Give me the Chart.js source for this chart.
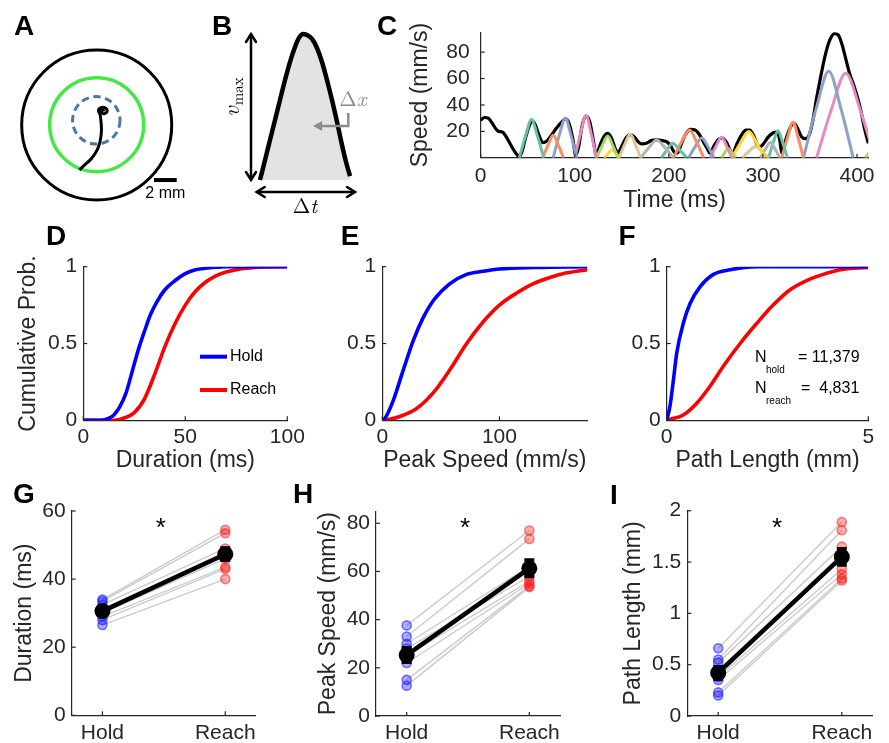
<!DOCTYPE html>
<html>
<head>
<meta charset="utf-8">
<script src="https://cdn.jsdelivr.net/npm/chart.js@4.4.1/dist/chart.umd.min.js"></script>
<style>
  html, body { margin: 0; padding: 0; background: #ffffff; }
  #fig { position: relative; width: 889px; height: 743px; overflow: hidden; background: #ffffff; }
  #fig canvas { position: absolute; left: 0; top: 0; }
</style>
</head>
<body>
<div id="fig">
  <canvas id="cA" width="889" height="743"></canvas>
  <canvas id="cB" width="889" height="743"></canvas>
  <canvas id="cC" width="889" height="743"></canvas>
  <canvas id="cD" width="889" height="743"></canvas>
  <canvas id="cE" width="889" height="743"></canvas>
  <canvas id="cF" width="889" height="743"></canvas>
  <canvas id="cG" width="889" height="743"></canvas>
  <canvas id="cH" width="889" height="743"></canvas>
  <canvas id="cI" width="889" height="743"></canvas>
</div>
<script>
// ---------------- data ----------------
// A: target rings (mm, relative to the target centre) and one example trajectory
const ringR  = [6.61, 4.14, 2.09];          // outer boundary, reach ring, hold zone
const ringCx = [0, 0, -0.035];
const ringCy = [0, 0.03, 0.41];
const trajX = [-1.53, -1.1, -0.55, -0.1, 0.2, 0.36, 0.42, 0.38, 0.3, 0.15, 0.45, 0.85, 0.9, 0.55, 0.4, 0.7];
const trajY = [-3.96, -3.55, -3.05, -2.45, -1.8, -1.1, -0.4, 0.3, 0.9, 1.3, 1.55, 1.45, 1.15, 1.0, 1.25, 1.35];
const scaleBarMM = 2;

// B: schematic single-submovement speed profile (normalised time, normalised speed)
const profileT = [0, 0.056, 0.111, 0.167, 0.222, 0.278, 0.333, 0.389, 0.433, 0.478, 0.522, 0.578, 0.633, 0.689,
                  0.744, 0.8, 0.856, 0.911, 0.956, 1.0];
const profileV = [0, 0.137, 0.274, 0.411, 0.548, 0.685, 0.808, 0.911, 0.973, 1.0, 0.993, 0.966, 0.904, 0.808,
                  0.685, 0.548, 0.397, 0.24, 0.123, 0.027];

// C: hand speed (ms, mm/s) and the fitted submovements
const speedT = [0,4,8,12,16,19,23,27,31,35,39,41,44,48,52,55,58,62,66,70,75,80,86,90,94,98,101,104,108,112,116,120,123,
  126,131,135,139,143,146,150,155,159,163,167,171,176,181,187,193,198,202,206,209,213,218,223,228,232,236,240,244,
  248,253,257,261,265,268,272,277,282,286,290,294,297,301,306,311,315,318,320,324,329,333,337,341,345,349,353,357,
  361,366,371,376,380,384,388,392,396,400,404,408,412];
const speedV = [28.5,30.5,30,26.5,22,20,19.5,16,11,6,2,0.8,5,16,25,28,25,17,11.5,12.5,17,22,27,29.5,26,14,2,8,25,31.5,27,12,1.5,
  8,16,18.5,15,7,3.5,9,15.5,17.5,16,12.5,10.5,11,13,13.5,13,12,9,4,3.5,10,18,21.5,21,18,13,8,3.5,
  9,14,15,12,6,3.5,10,17,21,21,17,10,8.5,11,16,19,19.5,13,3.5,13,23,26,22,16,14.5,17,28,45,
  60,77,89,94,93,86,75,64,56,47,36,22,11];
const submovements = [
  [[41,0],[47.5,16],[54,29],[60.5,16],[67,0]],
  [[66,0],[71.5,9.5],[77,17],[82.5,9.5],[88,0]],
  [[77,0],[83.5,17],[90,30],[96,17],[102,0]],
  [[100,0],[106,18],[112,32],[117.5,18],[123,0]],
  [[123,0],[129,9],[135,16.5],[140.5,9],[146,0]],
  [[131,0],[135.5,3.4],[140,6],[143.5,3.4],[147,0]],
  [[147,0],[153,10],[159,18],[164.5,10],[170,0]],
  [[170,0],[178.5,7.5],[187,13.5],[196,7.5],[205,0]],
  [[192,0],[198,6],[204,11],[211.5,6],[219,0]],
  [[205,0],[213.5,12],[222,21],[229.5,12],[237,0]],
  [[221,0],[228,8.5],[235,15],[241.5,8.5],[248,0]],
  [[244,0],[250,8.7],[256,15.5],[261.5,8.7],[267,0]],
  [[256,0],[259.5,4],[263,7],[267,4],[271,0]],
  [[267,0],[276,11],[285,20],[293.5,11],[302,0]],
  [[278,0],[285,4.8],[292,8.5],[299,4.8],[306,0]],
  [[297,0],[302.5,6.5],[308,11.5],[313,6.5],[318,0]],
  [[306,0],[311,11.5],[316,20.5],[321,11.5],[326,0]],
  [[320,0],[326,15],[332,27],[337.5,15],[343,0]],
  [[343,0],[356.5,37],[370,65.5],[383,37],[396,0]],
  [[357,0],[372.5,36],[388,64],[403.5,36],[419,0]],
  [[409,0],[413,4],[418,7]]
];
const set2 = ['#66c2a5', '#fc8d62', '#8da0cb', '#e78ac3', '#a6d854', '#ffd92f', '#e5c494', '#b3b3b3'];

// D-F: cumulative distributions (Hold vs Reach)
const durHoldX  = [0, 9, 12, 15, 18, 21, 24, 27, 30, 33, 36, 40, 45, 50, 55, 60, 70, 100];
const durHoldY  = [0, 0, 0.01, 0.035, 0.09, 0.18, 0.32, 0.46, 0.58, 0.69, 0.77, 0.85, 0.91, 0.955, 0.98, 0.99, 1, 1];
const durReachX = [0, 15, 20, 25, 30, 35, 40, 45, 50, 55, 60, 65, 70, 75, 80, 90, 100];
const durReachY = [0, 0, 0.015, 0.05, 0.14, 0.3, 0.48, 0.63, 0.75, 0.84, 0.9, 0.94, 0.965, 0.98, 0.99, 0.998, 1];
const pkHoldX  = [0, 2.3, 9.4, 18, 26.5, 35, 43.6, 57.8, 72, 86, 100, 130, 175];
const pkHoldY  = [0, 0.013, 0.13, 0.33, 0.52, 0.67, 0.78, 0.89, 0.95, 0.97, 0.985, 0.995, 1];
const pkReachX = [0, 5, 15, 29, 43.6, 57.8, 72, 86, 100, 115, 129, 143, 157.5, 175];
const pkReachY = [0, 0.005, 0.025, 0.075, 0.18, 0.33, 0.5, 0.64, 0.75, 0.83, 0.89, 0.93, 0.96, 0.98];
const plHoldX  = [0, 0.08, 0.165, 0.25, 0.41, 0.58, 0.83, 1.16, 1.57, 2.23, 5];
const plHoldY  = [0, 0.09, 0.26, 0.44, 0.63, 0.76, 0.87, 0.95, 0.98, 1.0, 1];
const plReachX = [0, 0.08, 0.41, 0.74, 1.07, 1.4, 1.82, 2.23, 2.64, 3.06, 3.47, 3.88, 4.3, 5];
const plReachY = [0, 0.006, 0.035, 0.11, 0.22, 0.35, 0.5, 0.63, 0.75, 0.85, 0.91, 0.95, 0.98, 0.995];
const nHold = '11,379', nReach = '4,831';

// G-I: per-animal medians, group mean and s.e.m.
const groups = ['Hold', 'Reach'];
const groupTicks = [1, 2];
const durHold   = [34, 33.5, 32.5, 31, 30, 29, 28, 26.5];
const durReach  = [54.5, 53.5, 49, 48, 46, 43.5, 43, 40];
const durMean   = [30.6, 47.3];
const durSem    = [1.0, 1.8];
const peakHold  = [37.6, 33, 30, 28, 25, 22, 15, 12.6];
const peakReach = [77, 73.5, 62, 58, 56, 55, 54, 53.5];
const peakMean  = [25.3, 61.3];
const peakSem   = [3.0, 3.4];
const pathHold  = [0.66, 0.55, 0.52, 0.45, 0.38, 0.35, 0.23, 0.2];
const pathReach = [1.89, 1.81, 1.65, 1.55, 1.43, 1.38, 1.34, 1.32];
const pathMean  = [0.42, 1.55];
const pathSem   = [0.06, 0.08];

// tick values
const ticksCx = [0, 100, 200, 300, 400], ticksCy = [20, 40, 60, 80];
const ticksProb = [0, 0.5, 1];
const ticksDur = [0, 50, 100], ticksPk = [0, 100], ticksPl = [0, 5];
const ticksG = [0, 20, 40, 60], ticksH = [0, 20, 40, 60, 80], ticksI = [0, 0.5, 1, 1.5, 2];

// ---------------- styling ----------------
const PAGE_W = 889, PAGE_H = 743;
const AXIS = '#262626', TEXT = '#262626';
const SANS = '"Liberation Sans", Arial, Helvetica, sans-serif';
const SERIF = '"Latin Modern Roman", "Liberation Serif", "DejaVu Serif", serif';
const TICK_SIZE = 21, TITLE_SIZE = 23;
const BLUE = '#0000ff', RED = '#ff0000';

Chart.defaults.font.family = SANS;
Chart.defaults.color = TEXT;
Chart.defaults.animation = false;
Chart.defaults.responsive = false;
Chart.defaults.maintainAspectRatio = false;
Chart.defaults.devicePixelRatio = 1;
Chart.defaults.events = [];
Chart.defaults.plugins.legend.display = false;
Chart.defaults.plugins.tooltip.enabled = false;

function drawText(ctx, str, x, y, font, color, align, base) {
  ctx.save();
  ctx.font = font;
  ctx.fillStyle = color || TEXT;
  ctx.textAlign = align || 'center';
  ctx.textBaseline = base || 'middle';
  ctx.fillText(str, x, y);
  ctx.restore();
}
function panelLetter(ctx, letter, x, y) {
  drawText(ctx, letter, x, y, 'bold 28px ' + SANS, '#000000');
}
const P = (chart, x, y) => [chart.scales.x.getPixelForValue(x), chart.scales.y.getPixelForValue(y)];

// inward tick marks, drawn along the left and bottom axes
const inwardTicks = {
  id: 'inwardTicks',
  afterDatasetsDraw(chart) {
    const ctx = chart.ctx, sx = chart.scales.x, sy = chart.scales.y;
    ctx.save();
    ctx.strokeStyle = AXIS;
    ctx.lineWidth = 1.2;
    sx.ticks.forEach(t => {
      const p = sx.getPixelForValue(t.value);
      ctx.beginPath(); ctx.moveTo(p, sx.top); ctx.lineTo(p, sx.top - 4); ctx.stroke();
    });
    sy.ticks.forEach(t => {
      const p = sy.getPixelForValue(t.value);
      ctx.beginPath(); ctx.moveTo(sy.right, p); ctx.lineTo(sy.right + 4, p); ctx.stroke();
    });
    ctx.restore();
  }
};

// axis box placement: plot area [left, top, right, bottom] on the page
function axisOpts(a, id, size) {
  return {
    type: 'linear', position: id === 'x' ? 'bottom' : 'left',
    min: a.min, max: a.max,
    grid: { display: false, drawTicks: false, tickLength: 0 },
    border: { display: true, color: AXIS, width: 1.2 },
    title: { display: !!a.title, text: a.title || '', color: TEXT, font: { size: TITLE_SIZE }, padding: 0 },
    ticks: {
      color: TEXT, font: { size: TICK_SIZE }, padding: a.pad, maxRotation: 0, minRotation: 0, autoSkip: false,
      callback: (v, i) => (a.labels ? a.labels[i] : String(v))
    },
    afterBuildTicks: s => { s.ticks = a.ticks.map(v => ({ value: v })); },
    afterFit: s => { if (id === 'x') s.height = size; else s.width = size; }
  };
}
function axisFrame(spec) {
  const [l, t, r, b] = spec.area;
  const lh = TITLE_SIZE * 1.2;
  const yW = spec.y.title ? l - spec.y.titleX + lh / 2 : 40;
  const xH = spec.x.title ? spec.x.titleY - b + lh / 2 : 25;
  return {
    layout: { padding: { left: l - yW, top: t, right: PAGE_W - r, bottom: PAGE_H - b - xH } },
    scales: { x: axisOpts(spec.x, 'x', xH), y: axisOpts(spec.y, 'y', yW) }
  };
}
const pts = (xs, ys) => xs.map((x, i) => ({ x: x, y: ys[i] }));

// ---------------- A: task geometry ----------------
new Chart(document.getElementById('cA'), {
  type: 'scatter',
  data: { datasets: [{
    data: pts(trajX, trajY), showLine: true, borderColor: '#000000', borderWidth: 3,
    pointRadius: 0, tension: 0.35, fill: false
  }] },
  options: {
    layout: { padding: { left: 10, top: 40, right: PAGE_W - 200, bottom: PAGE_H - 210 } },
    scales: {
      x: { type: 'linear', display: false, min: -7.639, max: 9.101 },
      y: { type: 'linear', display: false, min: -7.489, max: 7.489 }
    }
  },
  plugins: [{
    id: 'targetRings',
    beforeDatasetsDraw(chart) {
      const ctx = chart.ctx;
      const styles = [
        { color: '#000000', width: 3, dash: [] },
        { color: '#44e844', width: 3.5, dash: [] },
        { color: '#4a78a6', width: 3, dash: [7.5, 4.5] }
      ];
      ringR.forEach((r, i) => {
        const [cx, cy] = P(chart, ringCx[i], ringCy[i]);
        const rp = chart.scales.x.getPixelForValue(r) - chart.scales.x.getPixelForValue(0);
        ctx.save();
        ctx.strokeStyle = styles[i].color;
        ctx.lineWidth = styles[i].width;
        ctx.setLineDash(styles[i].dash);
        ctx.beginPath(); ctx.arc(cx, cy, rp, 0, Math.PI * 2); ctx.stroke();
        ctx.restore();
      });
    },
    afterDraw(chart) {
      const ctx = chart.ctx;
      const [x0, y0] = P(chart, 5.05, -4.85);
      const [x1] = P(chart, 5.05 + scaleBarMM, -4.85);
      ctx.save();
      ctx.fillStyle = '#000000';
      ctx.fillRect(x0, y0 - 2, x1 - x0, 4);
      ctx.restore();
      drawText(ctx, scaleBarMM + ' mm', (x0 + x1) / 2, y0 + 14, '16px ' + SANS, '#000000');
      panelLetter(ctx, 'A', 24, 27.5);
    }
  }]
});

// ---------------- B: submovement schematic ----------------
new Chart(document.getElementById('cB'), {
  type: 'line',
  data: { datasets: [{
    data: pts(profileT, profileV), borderColor: '#000000', borderWidth: 4.5,
    backgroundColor: '#e3e3e3', fill: 'origin', pointRadius: 0, cubicInterpolationMode: 'monotone'
  }] },
  options: {
    layout: { padding: { left: 240, top: 30, right: PAGE_W - 370, bottom: PAGE_H - 215 } },
    scales: {
      x: { type: 'linear', display: false, min: -0.2222, max: 1.2222 },
      y: { type: 'linear', display: false, min: -0.2397, max: 1.0274 }
    }
  },
  plugins: [{
    id: 'schematicMarks',
    afterDraw(chart) {
      const ctx = chart.ctx;
      const head = (x, y, ang, color) => {
        ctx.save();
        ctx.translate(x, y); ctx.rotate(ang);
        ctx.strokeStyle = color; ctx.lineWidth = 2.5; ctx.lineCap = 'round';
        ctx.beginPath(); ctx.moveTo(-8, -5); ctx.lineTo(0, 0); ctx.lineTo(-8, 5); ctx.stroke();
        ctx.restore();
      };
      ctx.save();
      ctx.strokeStyle = '#000000'; ctx.lineWidth = 2.5;
      // v_max arrow
      const [vx, vy0] = P(chart, -0.1, 0.0);
      const [, vy1] = P(chart, -0.1, 1.0);
      ctx.beginPath(); ctx.moveTo(vx, vy0); ctx.lineTo(vx, vy1); ctx.stroke();
      head(vx, vy1, -Math.PI / 2, '#000000'); head(vx, vy0, Math.PI / 2, '#000000');
      // delta-t arrow
      const [hx0, hy] = P(chart, -0.037, -0.082);
      const [hx1] = P(chart, 1.056, -0.082);
      ctx.beginPath(); ctx.moveTo(hx0, hy); ctx.lineTo(hx1, hy); ctx.stroke();
      head(hx1, hy, 0, '#000000'); head(hx0, hy, Math.PI, '#000000');
      // delta-x pointer
      const [gx, gy0] = P(chart, 0.981, 0.459);
      const [gtip, gy1] = P(chart, 0.59, 0.37);
      ctx.strokeStyle = '#8c8c8c';
      ctx.beginPath(); ctx.moveTo(gx, gy0); ctx.lineTo(gx, gy1); ctx.lineTo(gtip + 4, gy1); ctx.stroke();
      ctx.fillStyle = '#8c8c8c';
      ctx.beginPath(); ctx.moveTo(gtip, gy1); ctx.lineTo(gtip + 9, gy1 - 5); ctx.lineTo(gtip + 9, gy1 + 5); ctx.closePath(); ctx.fill();
      ctx.restore();

      // labels
      const [dxX, dxY] = P(chart, 1.033, 0.548);
      ctx.save();
      ctx.font = '21px ' + SERIF; ctx.fillStyle = '#8c8c8c'; ctx.textBaseline = 'middle';
      const wD = ctx.measureText('\u0394').width;
      ctx.font = 'italic 21px ' + SERIF;
      const wX = ctx.measureText('x').width;
      let sx = dxX - (wD + wX) / 2;
      ctx.font = '21px ' + SERIF; ctx.fillText('\u0394', sx, dxY);
      ctx.font = 'italic 21px ' + SERIF; ctx.fillText('x', sx + wD, dxY);

      const [dtX, dtY] = P(chart, 0.5, -0.185);
      ctx.fillStyle = '#000000';
      ctx.font = '21px ' + SERIF;
      const wD2 = ctx.measureText('\u0394').width;
      ctx.font = 'italic 21px ' + SERIF;
      const wT = ctx.measureText('t').width;
      sx = dtX - (wD2 + wT) / 2;
      ctx.font = '21px ' + SERIF; ctx.fillText('\u0394', sx, dtY);
      ctx.font = 'italic 21px ' + SERIF; ctx.fillText('t', sx + wD2, dtY);

      // v_max, rotated
      const [vmX, vmY] = P(chart, -0.311, 0.568);
      ctx.translate(vmX, vmY); ctx.rotate(-Math.PI / 2);
      ctx.font = 'italic 23px ' + SERIF;
      const wv = ctx.measureText('v').width;
      ctx.font = '15px ' + SERIF;
      const wm = ctx.measureText('max').width;
      const start = -(wv + wm + 1) / 2;
      ctx.font = 'italic 23px ' + SERIF; ctx.fillText('v', start, 0);
      ctx.font = '15px ' + SERIF; ctx.fillText('max', start + wv + 1, 6);
      ctx.restore();

      panelLetter(ctx, 'B', 222, 27.5);
    }
  }]
});

// ---------------- C: speed trace with submovements ----------------
const cFrame = axisFrame({
  area: [480.7, 32.3, 868.3, 157.8],
  x: { min: 0, max: 412, ticks: ticksCx, title: 'Time (ms)', titleY: 201, pad: 6 },
  y: { min: 0, max: 95, ticks: ticksCy, title: 'Speed (mm/s)', titleX: 421, pad: 11 }
});
const cSets = [{
  data: pts(speedT, speedV), borderColor: '#000000', borderWidth: 3.2, pointRadius: 0,
  cubicInterpolationMode: 'monotone', fill: false, order: 5
}];
submovements.forEach((sm, i) => {
  cSets.push({
    data: sm.map(p => ({ x: p[0], y: p[1] })), borderColor: set2[i % set2.length], borderWidth: 3,
    pointRadius: 0, cubicInterpolationMode: 'monotone', fill: false, order: 1
  });
});
new Chart(document.getElementById('cC'), {
  type: 'line',
  data: { datasets: cSets },
  options: { layout: cFrame.layout, scales: cFrame.scales },
  plugins: [inwardTicks, { id: 'letterC', afterDraw(chart) { panelLetter(chart.ctx, 'C', 387, 27.5); } }]
});

// ---------------- D-F: cumulative distributions ----------------
function cdfSet(xs, ys, color) {
  return { data: pts(xs, ys), borderColor: color, borderWidth: 3.6, pointRadius: 0,
           cubicInterpolationMode: 'monotone', fill: false };
}
function cdfChart(id, area, xMax, xTicks, xTitle, yTitle, sets, extra) {
  const fr = axisFrame({
    area: area,
    x: { min: 0, max: xMax, ticks: xTicks, title: xTitle, titleY: 461, pad: 4 },
    y: { min: 0, max: 1, ticks: ticksProb, title: yTitle, titleX: 28.7, pad: 6 }
  });
  new Chart(document.getElementById(id), {
    type: 'line',
    data: { datasets: sets },
    options: { layout: fr.layout, scales: fr.scales },
    plugins: [inwardTicks, { id: 'cdfExtra', afterDraw: extra }]
  });
}
cdfChart('cD', [83.3, 266.7, 287.3, 420.3], 100, ticksDur, 'Duration (ms)', 'Cumulative Prob.',
  [cdfSet(durHoldX, durHoldY, BLUE), cdfSet(durReachX, durReachY, RED)],
  chart => {
    const ctx = chart.ctx;
    ctx.save();
    ctx.lineWidth = 4;
    ctx.strokeStyle = BLUE; ctx.beginPath(); ctx.moveTo(200, 356.7); ctx.lineTo(227, 356.7); ctx.stroke();
    ctx.strokeStyle = RED;  ctx.beginPath(); ctx.moveTo(200, 390); ctx.lineTo(227, 390); ctx.stroke();
    ctx.restore();
    drawText(ctx, groups[0], 230, 357, '16px ' + SANS, '#000000', 'left');
    drawText(ctx, groups[1], 230, 390, '16px ' + SANS, '#000000', 'left');
    panelLetter(ctx, 'D', 56, 237);
  });
cdfChart('cE', [382.3, 266.7, 587.3, 420.3], 175, ticksPk, 'Peak Speed (mm/s)', null,
  [cdfSet(pkHoldX, pkHoldY, BLUE), cdfSet(pkReachX, pkReachY, RED)],
  chart => { panelLetter(chart.ctx, 'E', 350, 237.5); });
cdfChart('cF', [666.7, 266.7, 868.3, 420.3], 5, ticksPl, 'Path Length (mm)', null,
  [cdfSet(plHoldX, plHoldY, BLUE), cdfSet(plReachX, plReachY, RED)],
  chart => {
    const ctx = chart.ctx;
    drawText(ctx, 'N', 755, 358, '16px ' + SANS, '#000000', 'left');
    drawText(ctx, 'hold', 766, 370, '10px ' + SANS, '#000000', 'left');
    drawText(ctx, '= ' + nHold, 798, 358, '16px ' + SANS, '#000000', 'left');
    drawText(ctx, 'N', 755, 389, '16px ' + SANS, '#000000', 'left');
    drawText(ctx, 'reach', 766, 401, '10px ' + SANS, '#000000', 'left');
    drawText(ctx, '=  ' + nReach, 801, 389, '16px ' + SANS, '#000000', 'left');
    panelLetter(ctx, 'F', 627, 237.5);
  });

// ---------------- G-I: paired group comparisons ----------------
function pairedChart(id, area, yMax, yTicks, yTitle, titleX, hold, reach, mean, sem, starY, letter, letterPos) {
  const fr = axisFrame({
    area: area,
    x: { min: 0.75, max: 2.25, ticks: groupTicks, labels: groups, pad: 5 },
    y: { min: 0, max: yMax, ticks: yTicks, title: yTitle, titleX: titleX, pad: 6 }
  });
  const sets = [
    { data: mean.map((m, i) => ({ x: groupTicks[i], y: m })), borderColor: '#000000', backgroundColor: '#000000',
      pointBackgroundColor: '#000000', borderWidth: 4.5, pointRadius: 8, pointBorderWidth: 0, order: 0 },
    { data: hold.map(v => ({ x: groupTicks[0], y: v })), showLine: false, pointRadius: 4.5, pointBorderWidth: 1.6,
      pointBackgroundColor: 'rgba(0,0,255,0.32)', pointBorderColor: 'rgba(30,30,255,0.6)', order: 1 },
    { data: reach.map(v => ({ x: groupTicks[1], y: v })), showLine: false, pointRadius: 4.5, pointBorderWidth: 1.6,
      pointBackgroundColor: 'rgba(255,0,0,0.32)', pointBorderColor: 'rgba(255,40,40,0.6)', order: 1 }
  ];
  hold.forEach((h, i) => {
    sets.push({ data: [{ x: groupTicks[0], y: h }, { x: groupTicks[1], y: reach[i] }],
      borderColor: '#cbcbcb', borderWidth: 1.4, pointRadius: 0, fill: false, order: 3 });
  });
  new Chart(document.getElementById(id), {
    type: 'line',
    data: { datasets: sets },
    options: { layout: fr.layout, scales: fr.scales },
    plugins: [inwardTicks, {
      id: 'semBars',
      afterDatasetsDraw(chart) {
        const ctx = chart.ctx;
        ctx.save();
        ctx.strokeStyle = '#000000'; ctx.lineWidth = 3.5;
        mean.forEach((m, i) => {
          const [x, yLo] = P(chart, groupTicks[i], m - sem[i]);
          const [, yHi] = P(chart, groupTicks[i], m + sem[i]);
          ctx.beginPath();
          ctx.moveTo(x, yLo); ctx.lineTo(x, yHi);
          ctx.moveTo(x - 5, yLo); ctx.lineTo(x + 5, yLo);
          ctx.moveTo(x - 5, yHi); ctx.lineTo(x + 5, yHi);
          ctx.stroke();
        });
        ctx.restore();
      },
      afterDraw(chart) {
        const [sx, sy] = P(chart, 1.5, starY);
        drawText(chart.ctx, '*', sx - 3, sy + 6, '26px ' + SANS, '#000000');
        panelLetter(chart.ctx, letter, letterPos[0], letterPos[1]);
      }
    }]
  });
}
pairedChart('cG', [71.7, 511, 256, 715.3], 60, ticksG, 'Duration (ms)', 25,
  durHold, durReach, durMean, durSem, 56.4, 'G', [24, 495]);
pairedChart('cH', [376, 511.2, 560, 716], 85, ticksH, 'Peak Speed (mm/s)', 328.3,
  peakHold, peakReach, peakMean, peakSem, 80, 'H', [303, 495]);
pairedChart('cI', [687.3, 510.7, 872.7, 716], 2, ticksI, 'Path Length (mm)', 634,
  pathHold, pathReach, pathMean, pathSem, 1.877, 'I', [614, 496]);
</script>
</body>
</html>
